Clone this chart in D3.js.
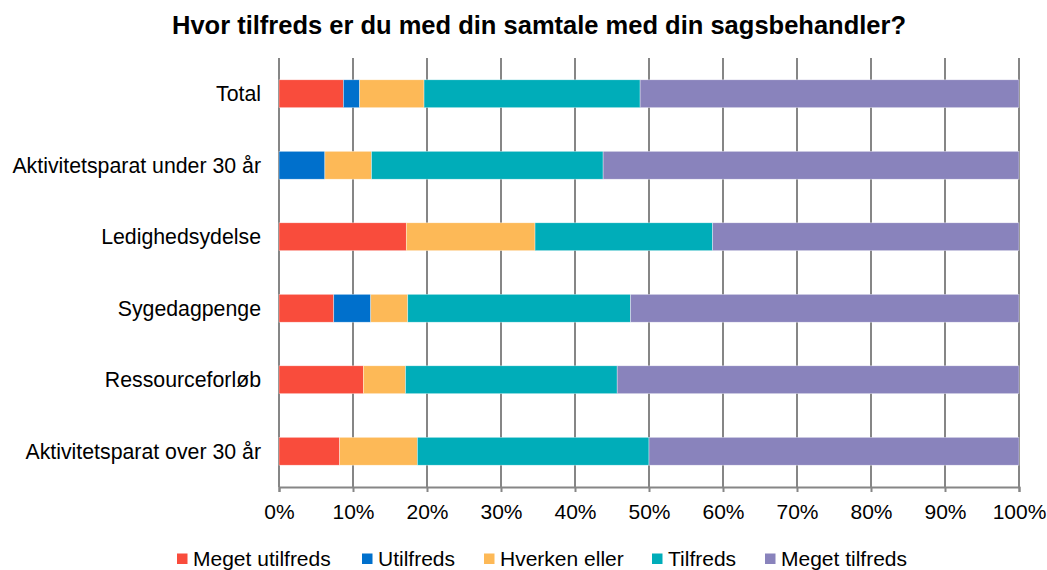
<!DOCTYPE html>
<html>
<head>
<meta charset="utf-8">
<script src="https://cdn.jsdelivr.net/npm/d3@7"></script>
<style>
  body { margin: 0; background: #fff; }
  svg { font-family: "Liberation Sans", Arial, sans-serif; }
</style>
</head>
<body>
<svg width="1047" height="570"></svg>
<script>
// categories top to bottom
var categories = ["Total", "Aktivitetsparat under 30 år", "Ledighedsydelse", "Sygedagpenge", "Ressourceforløb", "Aktivitetsparat over 30 år"];
var seriesNames = ["Meget utilfreds", "Utilfreds", "Hverken eller", "Tilfreds", "Meget tilfreds"];
var seriesColors = ["#F94C3C", "#0070CC", "#FDB957", "#00ADB9", "#8983BC"];

// percent values per series, same order as categories
var megetUtilfreds = [8.7, 0, 17.2, 7.4, 11.4, 8.2];
var utilfreds      = [2.2, 6.2, 0, 5.0, 0, 0];
var hverkenEller   = [8.7, 6.3, 17.4, 5.0, 5.7, 10.5];
var tilfreds       = [29.2, 31.3, 24.0, 30.1, 28.6, 31.3];
var megetTilfreds  = [51.2, 56.2, 41.4, 52.5, 54.3, 50.0];

var xTicks = [0, 10, 20, 30, 40, 50, 60, 70, 80, 90, 100];

var rows = categories.map(function(c, i) {
    return {
        cat: c,
        "Meget utilfreds": megetUtilfreds[i],
        "Utilfreds": utilfreds[i],
        "Hverken eller": hverkenEller[i],
        "Tilfreds": tilfreds[i],
        "Meget tilfreds": megetTilfreds[i]
    };
});

var svg = d3.select("svg");
var margin = { top: 58, left: 279, right: 28, bottom: 83 };
var width = 1047 - margin.left - margin.right;
var height = 570 - margin.top - margin.bottom;

var g = svg.append("g").attr("transform", "translate(" + margin.left + "," + margin.top + ")");

var x = d3.scaleLinear().domain([0, 100]).range([0, width]);
var y = d3.scaleBand().domain(categories).range([0, height]).paddingInner(0.61).paddingOuter(0.305);
var color = d3.scaleOrdinal().domain(seriesNames).range(seriesColors);

// title
svg.append("text")
    .attr("x", 539).attr("y", 34)
    .attr("text-anchor", "middle")
    .attr("font-weight", "bold")
    .attr("font-size", 25.5)
    .attr("fill", "#000")
    .text("Hvor tilfreds er du med din samtale med din sagsbehandler?");

// grid lines
g.append("g")
    .selectAll("line")
    .data(xTicks)
    .join("line")
    .attr("x1", function(d) { return x(d); })
    .attr("x2", function(d) { return x(d); })
    .attr("y1", 0).attr("y2", height)
    .attr("stroke", "#868686")
    .attr("stroke-width", 2);

// stacked bars
var stack = d3.stack().keys(seriesNames)(rows);
g.append("g")
    .selectAll("g")
    .data(stack)
    .join("g")
    .attr("fill", function(d) { return color(d.key); })
    .selectAll("rect")
    .data(function(d) { return d; })
    .join("rect")
    .attr("x", function(d) { return x(d[0]); })
    .attr("width", function(d) { return x(d[1]) - x(d[0]); })
    .attr("y", function(d) { return y(d.data.cat); })
    .attr("height", y.bandwidth())
    .attr("stroke", "#fff")
    .attr("stroke-opacity", 0.6)
    .attr("stroke-width", 0.6);

// bottom axis
var xAxis = g.append("g")
    .attr("transform", "translate(0," + height + ")")
    .call(d3.axisBottom(x).tickValues(xTicks).tickSize(5).tickPadding(12)
        .tickFormat(function(d) { return d + "%"; }));
xAxis.select(".domain").attr("stroke", "#868686").attr("stroke-width", 2);
xAxis.selectAll(".tick line").attr("stroke", "#868686").attr("stroke-width", 2);
xAxis.selectAll(".tick text")
    .attr("font-size", 21)
    .attr("font-family", "Liberation Sans, Arial, sans-serif")
    .attr("fill", "#000");

// left axis labels
var yAxis = g.append("g")
    .call(d3.axisLeft(y).tickSize(0).tickPadding(18));
yAxis.select(".domain").remove();
yAxis.selectAll(".tick text")
    .attr("font-size", 21.3)
    .attr("dy", "0.36em")
    .attr("font-family", "Liberation Sans, Arial, sans-serif")
    .attr("fill", "#000");

// legend
var legendX = [177, 362, 484, 652, 765];
var legend = svg.append("g")
    .selectAll("g")
    .data(seriesNames)
    .join("g")
    .attr("transform", function(d, i) { return "translate(" + legendX[i] + ",553.5)"; });
legend.append("rect")
    .attr("width", 10.5).attr("height", 10.5)
    .attr("fill", function(d) { return color(d); });
legend.append("text")
    .attr("x", 16).attr("y", 12.5)
    .attr("font-size", 21)
    .attr("fill", "#000")
    .text(function(d) { return d; });
</script>
</body>
</html>
